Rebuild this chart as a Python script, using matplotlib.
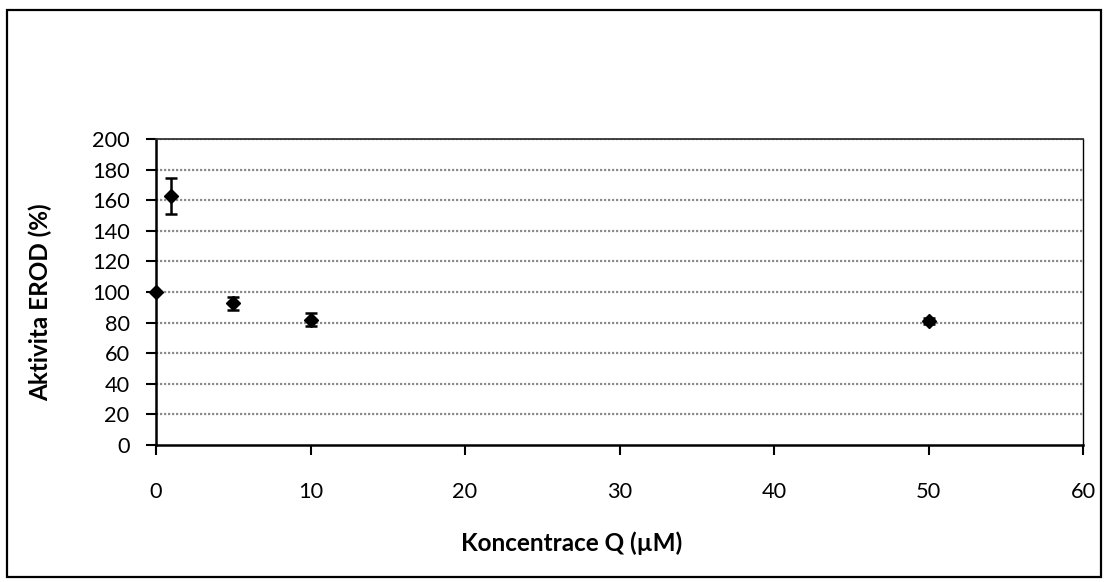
import matplotlib
matplotlib.use("Agg")
import matplotlib.pyplot as plt
from matplotlib.patches import Rectangle

plt.rcParams['font.family'] = ['Lato', 'DejaVu Sans']

conc = [0, 1, 5, 10, 50]
activity = [100, 163, 92.5, 82, 81.3]
errors = [0, 11.7, 4, 4.3, 2]
xticks = [0, 10, 20, 30, 40, 50, 60]
yticks = list(range(0, 201, 20))

W, H = 1109, 582
L, R, T, B = 156, 1083, 139, 445
fig = plt.figure(figsize=(W / 100, H / 100), dpi=100)
ax = fig.add_axes([L / W, 1 - B / H, (R - L) / W, (B - T) / H])

# outer chart border
fig.patches.append(Rectangle((7 / W, 1 - 577 / H), (1101 - 7) / W, (577 - 10) / H,
                             transform=fig.transFigure, fill=False,
                             edgecolor='black', linewidth=1.6))

for yv in yticks[1:]:
    ax.axhline(yv, color='#8c8c8c', linewidth=1.6, linestyle=(0, (1, 0.8)), zorder=1)

ax.errorbar(conc, activity, yerr=errors, fmt='D', color='black', markersize=7.5,
            ecolor='black', elinewidth=1.8, capsize=4.5, capthick=1.8, zorder=3,
            clip_on=False)

ax.set_xlim(0, 60)
ax.set_ylim(0, 200)
ax.set_xticks(xticks)
ax.set_yticks(yticks)
ax.tick_params(axis='both', direction='out', length=7, width=1.5, labelsize=15.7,
               colors='black')
ax.tick_params(axis='x', pad=20)
ax.tick_params(axis='y', pad=12)

for side in ['left', 'bottom']:
    ax.spines[side].set_linewidth(1.8)
ax.spines['right'].set_linewidth(1.0)
ax.spines['top'].set_linewidth(1.3)
ax.spines['top'].set_color('#333333')

ax.set_xlabel('Koncentrace Q (µM)', fontsize=17.5, fontweight='bold', va='center')
ax.set_ylabel('Aktivita EROD (%)', fontsize=17.5, fontweight='bold', va='center')
ax.xaxis.set_label_coords((572 - L) / (R - L), (B - 543) / (B - T))
ax.yaxis.set_label_coords((40 - L) / (R - L), (B - 302) / (B - T))

fig.savefig('out.png', dpi=100)
